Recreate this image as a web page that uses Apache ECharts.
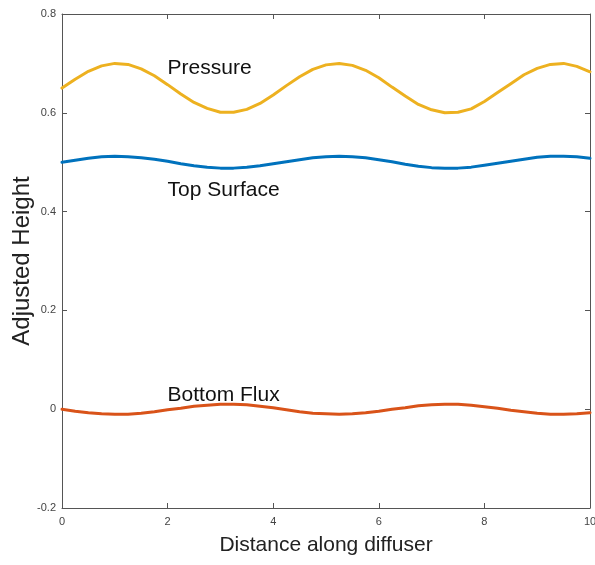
<!DOCTYPE html>
<html>
<head>
<meta charset="utf-8">
<script src="https://cdn.jsdelivr.net/npm/echarts@6/dist/echarts.min.js"></script>
<style>
html,body{margin:0;padding:0;background:#fff;}
#chart{width:595px;height:565px;}
</style>
</head>
<body>
<div id="chart"></div>
<script>
var xValues = [0,0.25,0.5,0.75,1,1.25,1.5,1.75,2,2.25,2.5,2.75,3,3.25,3.5,3.75,4,4.25,4.5,4.75,5,5.25,5.5,5.75,6,6.25,6.5,6.75,7,7.25,7.5,7.75,8,8.25,8.5,8.75,9,9.25,9.5,9.75,10];
var pressure = [0.650,0.668,0.684,0.695,0.700,0.698,0.689,0.675,0.657,0.638,0.621,0.609,0.601,0.601,0.607,0.619,0.636,0.655,0.673,0.688,0.697,0.700,0.696,0.686,0.671,0.652,0.634,0.617,0.606,0.600,0.601,0.608,0.623,0.641,0.659,0.677,0.690,0.698,0.700,0.694,0.683];
var topSurface = [0.500,0.504,0.508,0.511,0.512,0.511,0.509,0.506,0.502,0.497,0.493,0.490,0.488,0.488,0.490,0.493,0.497,0.501,0.505,0.509,0.511,0.512,0.511,0.509,0.505,0.501,0.496,0.492,0.489,0.488,0.488,0.490,0.494,0.498,0.502,0.506,0.510,0.512,0.512,0.511,0.508];
var bottomFlux = [0.000,-0.004,-0.007,-0.009,-0.010,-0.010,-0.008,-0.005,-0.001,0.002,0.006,0.008,0.010,0.010,0.009,0.006,0.003,-0.001,-0.005,-0.008,-0.009,-0.010,-0.009,-0.007,-0.004,0.000,0.003,0.007,0.009,0.010,0.010,0.008,0.005,0.002,-0.002,-0.005,-0.008,-0.010,-0.010,-0.009,-0.007];
var seriesNames = ['Pressure','Top Surface','Bottom Flux'];
var labelAnchors = [[2,0.69],[2,0.444],[2,0.029]];
var xTicks = [0,2,4,6,8,10];
var yTicks = [-0.2,0,0.2,0.4,0.6,0.8];

function pairs(ys){ return xValues.map(function(x,i){ return [x, ys[i]]; }); }
var colors = ['#EDB120','#0072BD','#D95319'];
var dataSets = [pressure, topSurface, bottomFlux];
var FONT = 'Liberation Sans, Arial, Helvetica, sans-serif';
var axisColor = '#555';

var series = dataSets.map(function(d, k){
  return {
    name: seriesNames[k], type: 'line', data: pairs(d), smooth: false,
    showSymbol: false, symbol: 'none', animation: false,
    lineStyle: {color: colors[k], width: 3, join: 'round', cap: 'round'},
    markPoint: {
      symbol: 'circle', symbolSize: 0, animation: false,
      label: {show: true, position: 'right', distance: 0, formatter: seriesNames[k],
        color: '#111', fontSize: 21, fontFamily: FONT},
      data: [{coord: labelAnchors[k]}]
    }
  };
});

function xAxisDef(pos, showLabels){
  return {
    type: 'value', position: pos, min: 0, max: 10, interval: 2,
    axisLine: {show: true, onZero: false, lineStyle: {color: axisColor, width: 1}},
    axisTick: {show: true, inside: true, length: 5, lineStyle: {color: axisColor}},
    axisLabel: {show: showLabels, color: '#444', fontSize: 11, fontFamily: FONT, margin: 8},
    splitLine: {show: false},
    name: showLabels ? 'Distance along diffuser' : '',
    nameLocation: 'middle', nameGap: 27, nameMoveOverlap: false,
    nameTextStyle: {color: '#222', fontSize: 21, fontFamily: FONT}
  };
}
function yAxisDef(pos, showLabels){
  return {
    type: 'value', position: pos, min: -0.2, max: 0.8, interval: 0.2,
    axisLine: {show: true, onZero: false, lineStyle: {color: axisColor, width: 1}},
    axisTick: {show: true, inside: true, length: 5, lineStyle: {color: axisColor}},
    axisLabel: {show: showLabels, color: '#444', fontSize: 11, fontFamily: FONT, margin: 6,
      formatter: function(v){ return String(Math.round(v*10)/10); }},
    splitLine: {show: false},
    name: showLabels ? 'Adjusted Height' : '',
    nameLocation: 'middle', nameGap: 28, nameMoveOverlap: false,
    nameTextStyle: {color: '#222', fontSize: 24, fontFamily: FONT}
  };
}

var chart = echarts.init(document.getElementById('chart'), null, {renderer: 'canvas'});
chart.setOption({
  backgroundColor: '#fff',
  animation: false,
  grid: {left: 62, right: 5, top: 14, bottom: 57, containLabel: false, outerBoundsMode: 'none'},
  xAxis: [xAxisDef('bottom', true), xAxisDef('top', false)],
  yAxis: [yAxisDef('left', true), yAxisDef('right', false)],
  series: series
});
</script>
</body>
</html>
